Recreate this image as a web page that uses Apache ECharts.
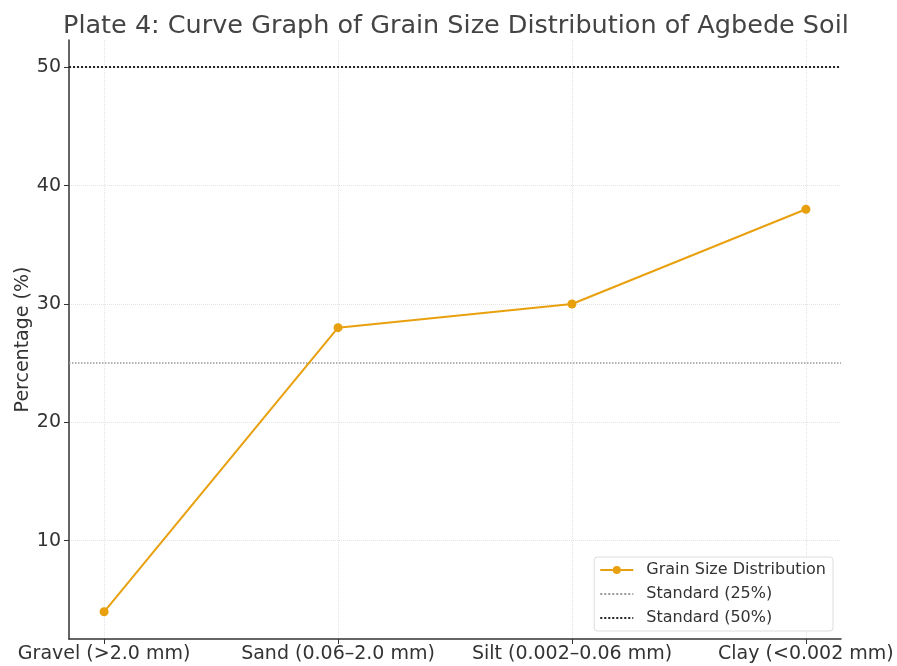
<!DOCTYPE html>
<html>
<head>
<meta charset="utf-8">
<script src="https://cdn.jsdelivr.net/npm/echarts@6/dist/echarts.min.js"></script>
<style>
  html, body { margin: 0; padding: 0; background: #fff; }
  #main { width: 897px; height: 666px; }
</style>
</head>
<body>
<div id="main"></div>
<script>
// grain size categories and percentages
var categories = ['Gravel (>2.0 mm)', 'Sand (0.06–2.0 mm)', 'Silt (0.002–0.06 mm)', 'Clay (<0.002 mm)'];
var percentages = [4, 28, 30, 38];
var yTicks = [10, 20, 30, 40, 50];
var standardLow = 25;
var standardHigh = 50;

var xTicks = categories.map(function (c, i) { return i; });
var points = percentages.map(function (v, i) { return [i, v]; });

var myChart = echarts.init(document.getElementById('main'));
var font = 'DejaVu Sans';

var option = {
  backgroundColor: '#fff',
  animation: false,
  title: {
    text: 'Plate 4: Curve Graph of Grain Size Distribution of Agbede Soil',
    left: 58,
    top: 8,
    textStyle: { fontFamily: font, fontSize: 25.5, fontWeight: 'normal', color: '#444' }
  },
  grid: { left: 69, right: 56, top: 40, bottom: 27 },
  legend: {
    orient: 'vertical',
    right: 64,
    bottom: 35,
    backgroundColor: '#fff',
    borderColor: '#ddd',
    borderWidth: 1,
    borderRadius: 3,
    padding: [5, 7, 5, 5],
    itemGap: 8,
    itemWidth: 33,
    itemHeight: 10,
    textStyle: { fontFamily: font, fontSize: 16, color: '#333', padding: [0, 0, 0, 8] },
    data: [
      'Grain Size Distribution',
      { name: 'Standard (25%)', itemStyle: { opacity: 0 } },
      { name: 'Standard (50%)', itemStyle: { opacity: 0 } }
    ]
  },
  xAxis: {
    type: 'value',
    min: -0.15,
    max: 3.15,
    axisLine: { show: true, onZero: false, lineStyle: { color: '#333', width: 1.5 } },
    axisTick: { show: true, customValues: xTicks, length: 5, lineStyle: { color: '#333' } },
    axisLabel: {
      customValues: xTicks,
      fontFamily: font, fontSize: 19, color: '#333', margin: 6,
      formatter: function (v) { return categories[Math.round(v)]; }
    },
    splitLine: { show: true, lineStyle: { color: '#e3e3e3', type: 'dotted' } }
  },
  yAxis: {
    type: 'value',
    min: 1.7,
    max: 52.3,
    name: 'Percentage (%)',
    nameLocation: 'middle',
    nameGap: 36,
    nameMoveOverlap: false,
    nameTextStyle: { fontFamily: font, fontSize: 19, color: '#333' },
    axisLine: { show: true, onZero: false, lineStyle: { color: '#333', width: 1.5 } },
    axisTick: { show: true, customValues: yTicks, length: 5, lineStyle: { color: '#333' } },
    axisLabel: { customValues: yTicks, fontFamily: font, fontSize: 19, color: '#333', margin: 8 },
    splitLine: { show: true, lineStyle: { color: '#e3e3e3', type: 'dotted' } }
  },
  series: [
    {
      name: 'Grain Size Distribution',
      type: 'line',
      data: points,
      color: '#E8A00E',
      symbol: 'circle',
      symbolSize: 9,
      lineStyle: { width: 2, color: '#E8A00E' },
      itemStyle: { color: '#E8A00E' },
      z: 5
    },
    {
      name: 'Standard (25%)',
      type: 'line',
      data: [],
      symbol: 'none',
      color: '#999',
      lineStyle: { color: '#999', width: 1.5, type: 'dotted' },
      markLine: {
        silent: true,
        symbol: 'none',
        label: { show: false },
        lineStyle: { color: '#999', width: 1.5, type: 'dotted' },
        data: [{ yAxis: standardLow }]
      }
    },
    {
      name: 'Standard (50%)',
      type: 'line',
      data: [],
      symbol: 'none',
      color: '#222',
      lineStyle: { color: '#222', width: 2, type: 'dotted' },
      markLine: {
        silent: true,
        symbol: 'none',
        label: { show: false },
        lineStyle: { color: '#222', width: 2, type: 'dotted' },
        data: [{ yAxis: standardHigh }]
      }
    }
  ]
};

myChart.setOption(option);
</script>
</body>
</html>
